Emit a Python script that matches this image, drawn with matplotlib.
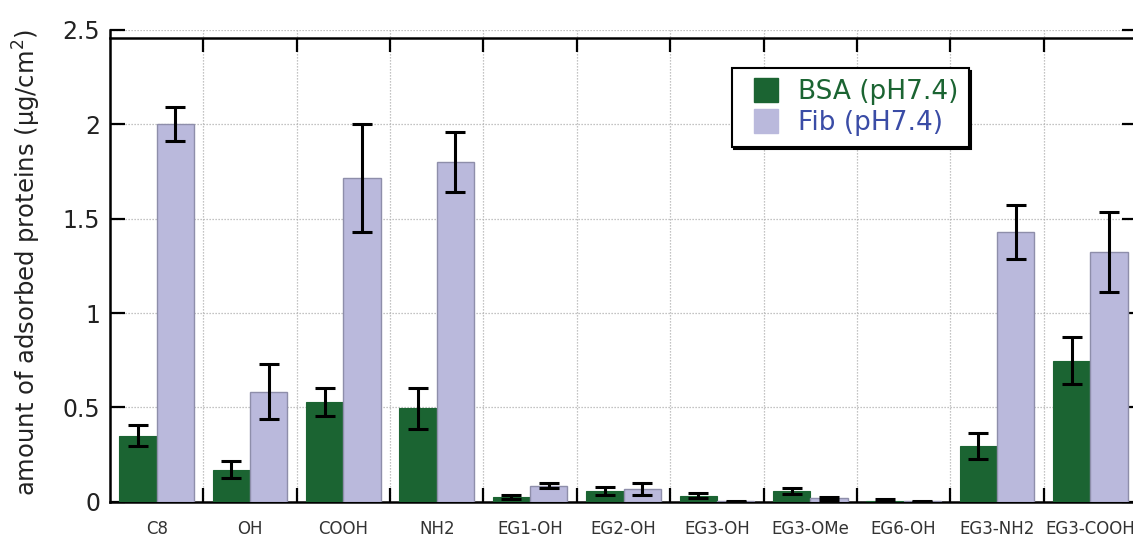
import numpy as np
import matplotlib
matplotlib.use("Agg")
import matplotlib.pyplot as plt
from matplotlib.lines import Line2D
from matplotlib.ticker import FixedLocator, FixedFormatter

# Surfaces and measured protein adsorption (ug/cm^2)
surfaces = ["C8", "OH", "COOH", "NH2", "EG1-OH", "EG2-OH", "EG3-OH",
            "EG3-OMe", "EG6-OH", "EG3-NH2", "EG3-COOH"]
bsa_mean = [0.35, 0.17, 0.527, 0.495, 0.023, 0.055, 0.032, 0.057, 0.004, 0.295, 0.747]
bsa_err = [0.055, 0.047, 0.073, 0.108, 0.010, 0.022, 0.015, 0.016, 0.008, 0.071, 0.125]
fib_mean = [2.0, 0.583, 1.717, 1.802, 0.085, 0.067, 0.003, 0.018, 0.003, 1.431, 1.325]
fib_err = [0.09, 0.145, 0.285, 0.16, 0.014, 0.031, 0.002, 0.009, 0.003, 0.143, 0.213]
series_labels = ["BSA (pH7.4)", "Fib (pH7.4)"]
y_ticks = [0, 0.5, 1, 1.5, 2, 2.5]
y_tick_labels = ["0", "0.5", "1", "1.5", "2", "2.5"]

green = "#1b6432"
lavender = "#bab9dc"
lav_edge = "#8e8eaa"

W, H = 1133, 540
fig = plt.figure(figsize=(W / 100, H / 100), dpi=100)
ax = fig.add_axes([110 / W, (H - 501.7) / H, (1137 - 110) / W, (501.7 - 30) / H])

x = np.arange(len(surfaces))
bw = 0.4
err_kw = dict(ecolor="black", elinewidth=2.2, capsize=7, capthick=2.2)
ax.bar(x - bw / 2, bsa_mean, bw, color=green, edgecolor=green, linewidth=0.8,
       yerr=bsa_err, error_kw=err_kw, zorder=3)
ax.bar(x + bw / 2, fib_mean, bw, color=lavender, edgecolor=lav_edge, linewidth=1.0,
       yerr=fib_err, error_kw=err_kw, zorder=3)

ax.set_xlim(-0.5, len(surfaces) - 0.5)
ax.set_ylim(0, 2.5)

# category boundaries carry the tick marks and vertical grid
bounds = np.arange(0.5, len(surfaces) - 0.5, 1.0)
ax.xaxis.set_major_locator(FixedLocator(bounds))
ax.xaxis.set_major_formatter(FixedFormatter([""] * len(bounds)))
ax.xaxis.set_minor_locator(FixedLocator(x))
ax.xaxis.set_minor_formatter(FixedFormatter(surfaces))
ax.tick_params(axis="x", which="major", direction="in", length=10, width=1.6,
               top=True, bottom=True)
ax.tick_params(axis="x", which="minor", length=0, pad=13, labelsize=12,
               labelcolor="#333333")

ax.set_yticks(y_ticks)
ax.set_yticklabels(y_tick_labels)
ax.tick_params(axis="y", direction="in", length=11, width=1.6, left=True, right=True,
               labelsize=17, pad=7, labelcolor="#222222")

ax.grid(True, which="major", color="#b0b0b0", linestyle=(0, (1, 1.4)), linewidth=0.9, zorder=0)
ax.set_axisbelow(True)

for side in ["left", "bottom", "top", "right"]:
    ax.spines[side].set_linewidth(1.8)
ax.spines["top"].set_position(("data", 2.455))

fig.text(27 / W, 1 - 262 / H, "amount of adsorbed proteins (μg/cm$^{2}$)",
         rotation=90, ha="center", va="center", fontsize=17.5, color="#222222")

handles = [Line2D([], [], marker="s", linestyle="none", markersize=17.5,
                  markerfacecolor=c, markeredgecolor=c)
           for c in (green, lavender)]
leg = ax.legend(handles, series_labels, loc="upper left",
                bbox_to_anchor=(731.7 / W, 1 - 68.3 / H), bbox_transform=fig.transFigure,
                borderaxespad=0, fontsize=19, frameon=True, fancybox=False,
                shadow={"facecolor": "black", "edgecolor": "black", "alpha": 1},
                handlelength=1.8, handletextpad=0.3, labelspacing=0.2, borderpad=0.4,
                labelcolor=[green, "#3a4ca6"])
leg.get_frame().set_edgecolor("black")
leg.get_frame().set_linewidth(1.5)

fig.savefig("out.png", dpi=100)
